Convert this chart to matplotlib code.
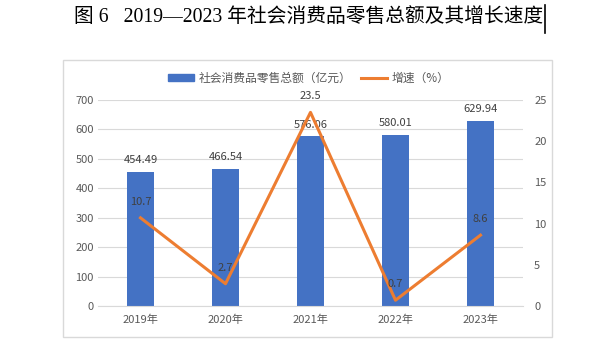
import numpy as np
import matplotlib.pyplot as plt
from matplotlib.patches import Rectangle
from matplotlib.lines import Line2D

plt.rcParams['font.family'] = ['Noto Sans CJK SC', 'DejaVu Sans']

years = ['2019年', '2020年', '2021年', '2022年', '2023年']
sales = [454.49, 466.54, 576.06, 580.01, 629.94]
growth = [10.7, 2.7, 23.5, 0.7, 8.6]

bar_col = '#4472C4'
line_col = '#ED7D31'
txt_col = '#595959'

fig = plt.figure(figsize=(6.03, 3.45), dpi=100)

# outer chart frame
fig.patches.append(Rectangle((63 / 603, 1 - 337 / 345), 489 / 603, 277 / 345,
                             transform=fig.transFigure, fill=False,
                             edgecolor='#D9D9D9', linewidth=1, zorder=-1))

ax = fig.add_axes([98 / 603, 1 - 306 / 345, 425 / 603, 206 / 345])
x = np.arange(len(years))
ax.bar(x, sales, width=0.32, color=bar_col, zorder=2)
ax.set_ylim(0, 700)
ax.set_yticks(np.arange(0, 701, 100))
ax.set_xlim(-0.5, len(years) - 0.5)
ax.set_xticks(x)
ax.set_xticklabels(years)
ax.grid(axis='y', color='#D9D9D9', linewidth=0.8, zorder=0)
for s in ['top', 'right', 'left']:
    ax.spines[s].set_visible(False)
ax.spines['bottom'].set_color('#D9D9D9')
ax.tick_params(length=0, labelsize=8, labelcolor=txt_col, pad=6)
ax.tick_params(axis='y', pad=3)
for xi, v in zip(x, sales):
    ax.annotate(f'{v:.2f}', (xi, v), xytext=(0, 5), textcoords='offset points',
                ha='center', va='bottom', fontsize=8, color='#404040')

ax2 = ax.twinx()
ax2.plot(x, growth, color=line_col, linewidth=2.2, zorder=3)
ax2.set_ylim(0, 25)
ax2.set_yticks(np.arange(0, 26, 5))
for s in ax2.spines.values():
    s.set_visible(False)
ax2.tick_params(length=0, labelsize=8, labelcolor=txt_col, pad=8)
for xi, v in zip(x, growth):
    ax2.annotate(f'{v}', (xi, v), xytext=(0, 8), textcoords='offset points',
                 ha='center', va='bottom', fontsize=8, color='#404040')

handles = [Rectangle((0, 0), 1, 1, color=bar_col),
           Line2D([0], [0], color=line_col, linewidth=2.2)]
fig.legend(handles, ['社会消费品零售总额（亿元）', '增速（%）'],
           loc='center', bbox_to_anchor=(309 / 603, 1 - 78 / 345), ncol=2,
           frameon=False, fontsize=8.5, labelcolor=txt_col,
           handlelength=2.2, handleheight=0.5, columnspacing=0.8, handletextpad=0.4)

fig.text(309 / 603, 1 - 18 / 345, '图 6   2019—2023 年社会消费品零售总额及其增长速度',
         ha='center', va='center', fontsize=14.2, fontweight='medium',
         family=['Liberation Serif', 'Noto Sans CJK SC'])
# text cursor at the end of the caption
fig.add_artist(Line2D([545 / 603, 545 / 603], [1 - 33 / 345, 1 - 5 / 345],
                      transform=fig.transFigure, color='black', linewidth=1.2))

fig.savefig('out.png', dpi=100)
